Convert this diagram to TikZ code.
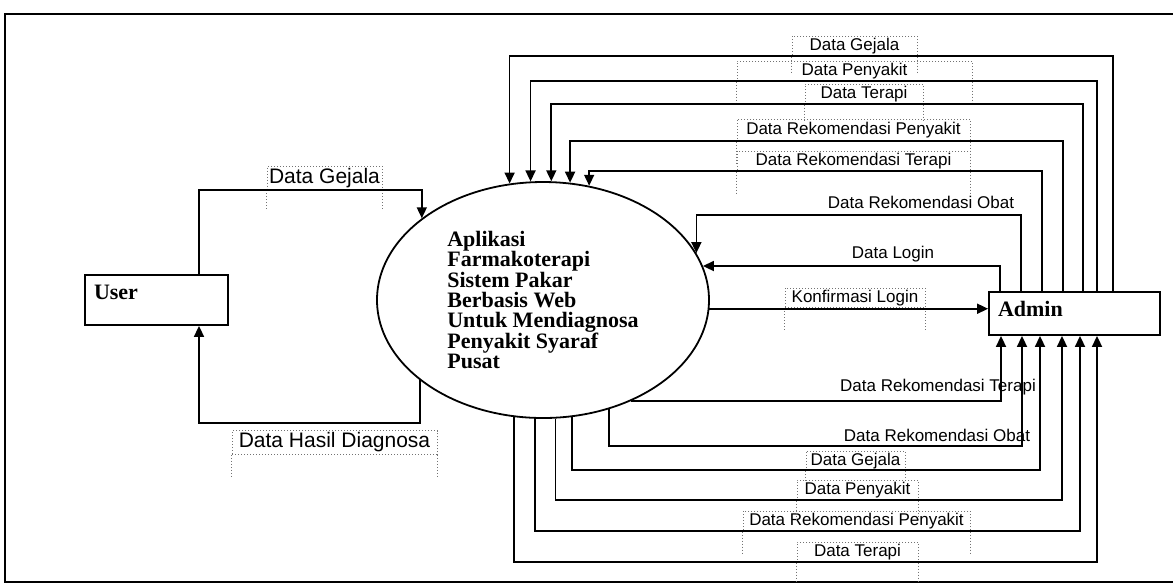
\documentclass[tikz,border=0pt]{standalone}
\usepackage{fontspec}
\setmainfont{Liberation Serif}
\newfontfamily\lblfont{Liberation Sans}
\usetikzlibrary{positioning,arrows.meta,shapes.geometric}

\begin{document}
\begin{tikzpicture}[x=0.5pt,y=-0.5pt,
    flow/.style={line width=0.85pt,-{Triangle[length=5.5pt,width=5pt]}},
    flowlbl/.style={draw=black!55,densely dotted,line width=0.5pt,inner sep=1pt,minimum height=10pt,font=\lblfont\fontsize{8.5}{9}\selectfont},
    plainlbl/.style={inner sep=1pt,font=\lblfont\fontsize{8.5}{9}\selectfont},
    biglbl/.style={minimum height=11pt,font=\lblfont\fontsize{10.5}{11}\selectfont},
    ext/.style={draw=black!55,densely dotted,line width=0.5pt},
    entity/.style={draw,line width=0.9pt,align=left,inner xsep=4.5pt,inner ysep=4pt,text height=8pt,font=\bfseries\fontsize{11}{12}\selectfont},
    process/.style={draw,ellipse,line width=0.9pt,minimum width=166pt,minimum height=118pt,inner sep=0pt,align=left,font=\bfseries\fontsize{11}{10.2}\selectfont}]
  \useasboundingbox (0,0) rectangle (1173,586);
  \draw[line width=0.9pt] (1173,14) -- (5,14) -- (5,582) -- (1173,582);

  \node[entity,text width=62.5pt,text depth=9pt] (user) at (156.5,300) {User};
  \node[process] (proc) at (543,300) {Aplikasi\\Farmakoterapi\\Sistem Pakar\\Berbasis Web\\Untuk Mendiagnosa\\Penyakit Syaraf\\Pusat};
  \node[entity,text width=76.5pt,text depth=5.5pt] (admin) at (1074.5,313.5) {Admin};

  \node[flowlbl,biglbl,minimum width=57.5pt] (lGejala) at (324.5,178) {Data Gejala};
  \node[flowlbl,biglbl,minimum width=102.5pt] (lHasil) at (334.5,442.5) {Data Hasil Diagnosa};

  \node[flowlbl,minimum width=62.5pt] (tGejala) at (854.5,46) {Data Gejala};
  \node[flowlbl,minimum width=117.5pt] (tPenyakit) at (854.5,71) {Data Penyakit};
  \node[flowlbl,minimum width=59pt] (tTerapi) at (864,94) {Data Terapi};
  \node[flowlbl,minimum width=116.5pt,minimum height=11pt] (tRekPenyakit) at (853.5,130) {Data Rekomendasi Penyakit};
  \node[flowlbl,minimum width=116.5pt] (tRekTerapi) at (853.5,161) {Data Rekomendasi Terapi};
  \node[plainlbl] (tRekObat) at (921,202) {Data Rekomendasi Obat};
  \node[plainlbl] (tLogin) at (893,254) {Data Login};
  \node[flowlbl,minimum width=70pt,minimum height=9pt] (tKonfirmasi) at (855,298) {Konfirmasi Login};

  \node[plainlbl] (bRekTerapi) at (938,387) {Data Rekomendasi Terapi};
  \node[plainlbl] (bRekObat) at (937,435) {Data Rekomendasi Obat};
  \node[flowlbl,minimum width=49.5pt,minimum height=9pt] (bGejala) at (855.5,461) {Data Gejala};
  \node[flowlbl,minimum width=60.5pt] (bPenyakit) at (857.5,490) {Data Penyakit};
  \node[flowlbl,minimum width=113.5pt] (bRekPenyakit) at (856.5,521) {Data Rekomendasi Penyakit};
  \node[flowlbl,minimum width=60.5pt] (bTerapi) at (857.5,552) {Data Terapi};

  \foreach \n/\d in {lGejala/20, lHasil/24, tGejala/18, tPenyakit/22, tTerapi/16, tRekPenyakit/22, tRekTerapi/22, tKonfirmasi/24, bGejala/10, bPenyakit/20, bRekPenyakit/22, bTerapi/20}
    \draw[ext] (\n.south west) -- ++(0,\d) (\n.south east) -- ++(0,\d);

  \draw[flow] (user.north -| 199,0) |- (proc.146.7 |- 0,190) -- (proc.146.7);
  \draw[flow] (proc.213.7) |- (199,423) -- (user.south -| 199,0);

  \foreach \xa/\yh/\an in {1113/56/106.9, 1097/81/96.3, 1083/104/86.6, 1063/141/77.9, 1042/171/68.4, 1021/215/17.3}
    \draw[flow] (admin.north -| \xa,0) |- (proc.\an |- 0,\yh) -- (proc.\an);
  \draw[flow] (admin.north -| 1000,0) |- (proc.12.5);
  \draw[flow] (proc.357.2) -- (proc.357.2 -| admin.west);

  \draw[flow] (proc.311.4) -| (admin.south -| 1001,0);
  \foreach \an/\yh/\xa in {301.4/446/1022, 284.5/470/1040, 276.8/500/1062, 266.1/531/1080, 256.9/562/1097}
    \draw[flow] (proc.\an) |- (\xa,\yh) -- (admin.south -| \xa,0);
\end{tikzpicture}
\end{document}
